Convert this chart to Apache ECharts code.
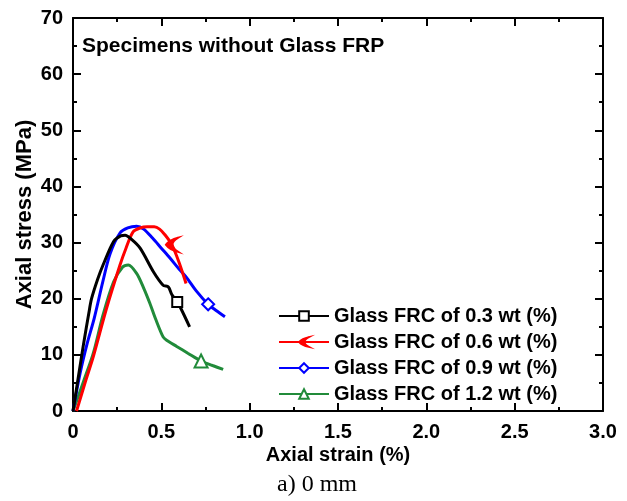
<!DOCTYPE html>
<html>
<head>
<meta charset="utf-8">
<script src="https://cdn.jsdelivr.net/npm/echarts@6.0.0/dist/echarts.min.js"></script>
<style>
  html, body { margin: 0; padding: 0; background: #fff; }
  #root { width: 627px; height: 501px; }
</style>
</head>
<body>
<div id="root"></div>
<script>
// values
const seriesNames = ['Glass FRC of 0.3 wt (%)', 'Glass FRC of 0.6 wt (%)', 'Glass FRC of 0.9 wt (%)', 'Glass FRC of 1.2 wt (%)'];

const strain03 = [0, 0.03, 0.06, 0.09, 0.105, 0.14, 0.17, 0.23, 0.27, 0.295, 0.33, 0.38, 0.455, 0.51, 0.54, 0.56, 0.59, 0.61, 0.66];
const stress03 = [0, 6, 12, 17.5, 20, 23.5, 26, 30.2, 31.2, 31.3, 30.6, 29, 24.8, 22.4, 22.1, 20.7, 19.4, 18.3, 15];

const strain06 = [0.02, 0.07, 0.115, 0.19, 0.266, 0.3, 0.34, 0.38, 0.42, 0.46, 0.49, 0.52, 0.56, 0.6, 0.64];
const stress06 = [0, 5.2, 9.7, 18.3, 26, 29, 31.9, 32.6, 32.8, 32.8, 32.4, 31.4, 29.6, 26.5, 22.7];

const strain09 = [0, 0.04, 0.08, 0.12, 0.17, 0.21, 0.266, 0.31, 0.36, 0.4, 0.45, 0.5, 0.55, 0.6, 0.64, 0.7, 0.765, 0.81, 0.86];
const stress09 = [0, 6.7, 12, 16.5, 23.2, 28, 31.7, 32.6, 32.9, 32.4, 30.8, 29, 27.2, 25.3, 23.9, 21.3, 19, 17.9, 16.8];

const strain12 = [0, 0.06, 0.115, 0.17, 0.23, 0.28, 0.313, 0.36, 0.4, 0.435, 0.47, 0.51, 0.53, 0.587, 0.65, 0.725, 0.79, 0.85];
const stress12 = [0, 5.3, 10.3, 17.1, 23, 25.6, 26, 24.5, 21.9, 19.2, 16.2, 13.2, 12.6, 11.5, 10.3, 8.9, 8.1, 7.4];

// index of the one point on each curve that carries a marker
const markerIndex = [16, 12, 16, 15];

const xTickLabels = ['0', '0.5', '1.0', '1.5', '2.0', '2.5', '3.0'];
const yTickLabels = ['0', '10', '20', '30', '40', '50', '60', '70'];

const colors = ['#000000', '#ff0000', '#0000ff', '#218b3a'];
const arrowPath = 'path://M20,0 Q6,3 0,10 Q6,17 20,20 Q11,15 11,10 Q11,5 20,0 Z';
const symbols = ['emptyRect', arrowPath, 'emptyDiamond', 'emptyTriangle'];
const symbolSizes = [10, [12, 14], 12, 13];

const curves = [[strain03, stress03], [strain06, stress06], [strain09, stress09], [strain12, stress12]];

const font = 'Liberation Sans, Arial, sans-serif';

const myChart = echarts.init(document.getElementById('root'));

const axisCommon = {
  min: 0,
  axisLine: { show: true, onZero: false, lineStyle: { color: '#000', width: 2 } },
  axisTick: { show: true, inside: true, length: 8, lineStyle: { color: '#000', width: 2 } },
  minorTick: { show: true, splitNumber: 2, length: 4, lineStyle: { color: '#000', width: 2 } },
  splitLine: { show: false },
};

const series = curves.map((c, k) => ({
  name: seriesNames[k],
  type: 'line',
  xAxisIndex: 0,
  yAxisIndex: 0,
  symbol: symbols[k],
  symbolSize: symbolSizes[k],
  showSymbol: true,
  showAllSymbol: true,
  smooth: 0.3,
  lineStyle: { color: colors[k], width: 3 },
  itemStyle: { color: colors[k], borderColor: colors[k], borderWidth: 2 },
  emphasis: { disabled: true },
  z: 10 - k,
  data: c[0].map((x, i) => i === markerIndex[k]
    ? { value: [x, c[1][i]] }
    : { value: [x, c[1][i]], symbol: 'none' }),
}));

const option = {
  animation: false,
  backgroundColor: '#fff',
  title: [
    {
      text: 'Specimens without Glass FRP',
      left: 77,
      top: 31,
      textStyle: { fontFamily: font, fontWeight: 'bold', fontSize: 21, color: '#000' },
    },
    {
      text: 'a) 0 mm',
      left: 272,
      top: 468,
      textStyle: { fontFamily: 'Liberation Serif, Times New Roman, serif', fontWeight: 'normal', fontSize: 24, color: '#000' },
    },
  ],
  legend: {
    orient: 'vertical',
    left: 273,
    top: 301,
    itemWidth: 50,
    itemHeight: 12,
    itemGap: 6,
    selectedMode: false,
    textStyle: { fontFamily: font, fontWeight: 'bold', fontSize: 20, color: '#000', lineHeight: 20 },
    data: seriesNames,
  },
  grid: { left: 73, right: 24, top: 18, bottom: 90, containLabel: false },
  xAxis: [
    Object.assign({}, axisCommon, {
      type: 'value',
      max: 3,
      interval: 0.5,
      position: 'bottom',
      name: 'Axial strain (%)',
      nameLocation: 'middle',
      nameGap: 34,
      nameMoveOverlap: false,
      nameTextStyle: { fontFamily: font, fontWeight: 'bold', fontSize: 20, color: '#000' },
      axisLabel: {
        margin: 11,
        fontFamily: font, fontWeight: 'bold', fontSize: 20, color: '#000',
        formatter: (v) => xTickLabels[Math.round(v / 0.5)],
      },
    }),
    Object.assign({}, axisCommon, {
      type: 'value',
      max: 3,
      interval: 0.5,
      position: 'top',
      axisLabel: { show: false },
    }),
  ],
  yAxis: [
    Object.assign({}, axisCommon, {
      type: 'value',
      max: 70,
      interval: 10,
      position: 'left',
      name: 'Axial stress (MPa)',
      nameLocation: 'middle',
      nameGap: 37,
      nameMoveOverlap: false,
      nameTextStyle: { fontFamily: font, fontWeight: 'bold', fontSize: 22, color: '#000' },
      axisLabel: {
        margin: 10,
        fontFamily: font, fontWeight: 'bold', fontSize: 20, color: '#000',
        formatter: (v) => yTickLabels[Math.round(v / 10)],
      },
    }),
    Object.assign({}, axisCommon, {
      type: 'value',
      max: 70,
      interval: 10,
      position: 'right',
      axisLabel: { show: false },
    }),
  ],
  series: series,
};

myChart.setOption(option);
</script>
</body>
</html>
